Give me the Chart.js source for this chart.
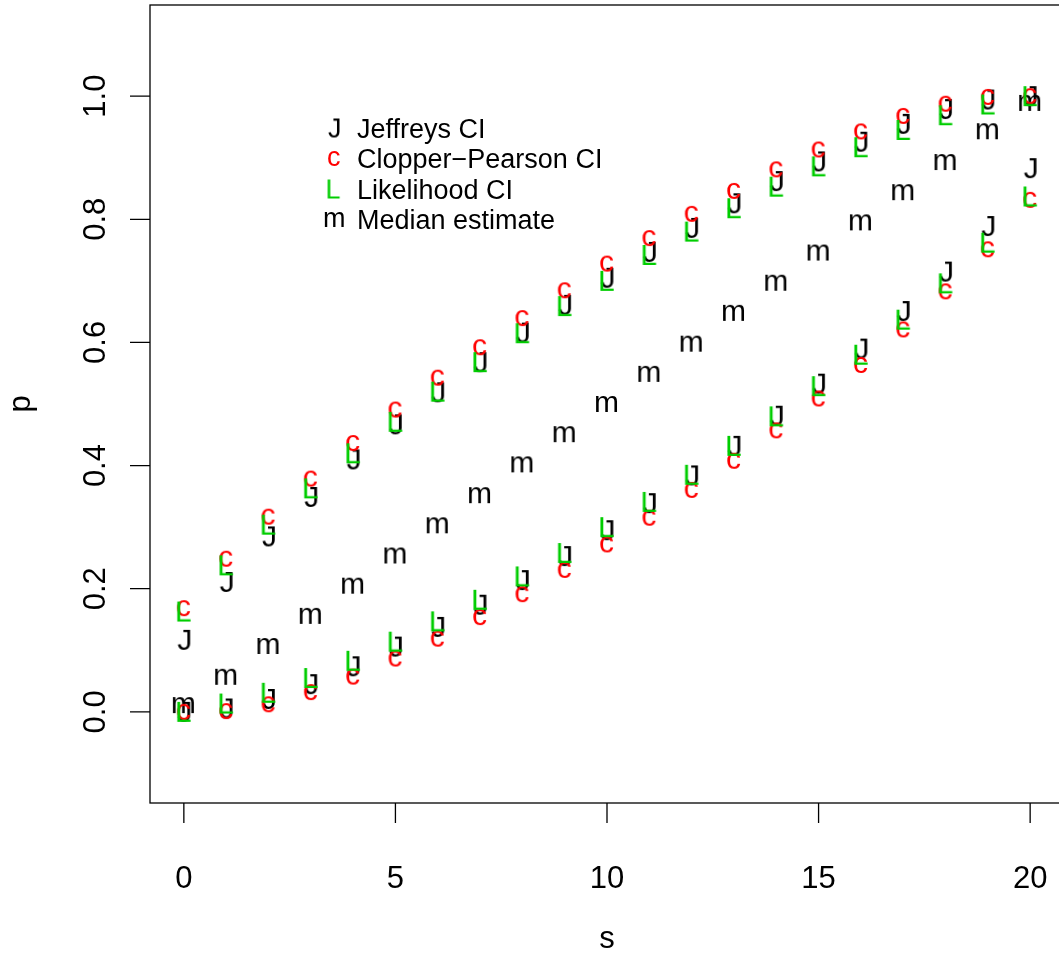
<!DOCTYPE html>
<html>
<head>
<meta charset="utf-8">
<script src="https://cdn.jsdelivr.net/npm/chart.js@4.4.0/dist/chart.umd.min.js"></script>
<style>
  html, body { margin: 0; padding: 0; background: #fff; overflow: hidden; }
  #wrap { width: 1059px; height: 956px; overflow: hidden; }
</style>
</head>
<body>
<div id="wrap"><canvas id="ciChart" width="1075" height="956"></canvas></div>
<script>
// Number of successes s out of n = 20
const successes = [0, 1, 2, 3, 4, 5, 6, 7, 8, 9, 10, 11, 12, 13, 14, 15, 16, 17, 18, 19, 20];

// Interval end points
const jeffreysLower = [0.000, 0.0055, 0.021, 0.045, 0.074, 0.106, 0.138, 0.174, 0.214, 0.253, 0.295,
  0.339, 0.384, 0.432, 0.481, 0.533, 0.590, 0.651, 0.715, 0.789, 0.883];
const jeffreysUpper = [0.117, 0.211, 0.285, 0.349, 0.410, 0.467, 0.519, 0.568, 0.616, 0.661, 0.705,
  0.747, 0.786, 0.826, 0.862, 0.894, 0.926, 0.955, 0.979, 0.9945, 1.000];
const clopperLower = [0.000, 0.0013, 0.0123, 0.0321, 0.0573, 0.0866, 0.1189, 0.1539, 0.1912, 0.2306, 0.2720,
  0.3153, 0.3605, 0.4078, 0.4572, 0.5090, 0.5634, 0.6211, 0.6830, 0.7513, 0.8316];
const clopperUpper = [0.1684, 0.2487, 0.3170, 0.3789, 0.4366, 0.4910, 0.5428, 0.5922, 0.6395, 0.6847, 0.7280,
  0.7694, 0.8088, 0.8461, 0.8811, 0.9134, 0.9427, 0.9679, 0.9877, 0.9987, 1.000];
const likelihoodLower = [0.000, 0.0135, 0.031, 0.055, 0.083, 0.114, 0.147, 0.182, 0.220, 0.258, 0.300,
  0.341, 0.385, 0.432, 0.480, 0.529, 0.580, 0.637, 0.696, 0.762, 0.837];
const likelihoodUpper = [0.163, 0.238, 0.304, 0.363, 0.420, 0.471, 0.520, 0.568, 0.615, 0.659, 0.700,
  0.742, 0.780, 0.818, 0.853, 0.886, 0.917, 0.945, 0.969, 0.9865, 1.000];
const medianEstimate = [0.011, 0.057, 0.107, 0.156, 0.205, 0.254, 0.303, 0.352, 0.402, 0.451, 0.500,
  0.549, 0.598, 0.648, 0.697, 0.746, 0.795, 0.844, 0.893, 0.943, 0.989];

// Axis ticks
const xTicks = [0, 5, 10, 15, 20];
const xTickLabels = ['0', '5', '10', '15', '20'];
const yTicks = [0, 0.2, 0.4, 0.6, 0.8, 1.0];
const yTickLabels = ['0.0', '0.2', '0.4', '0.6', '0.8', '1.0'];

const legendLabels = ['Jeffreys CI', 'Clopper\u2212Pearson CI', 'Likelihood CI', 'Median estimate'];
const legendLetters = ['J', 'c', 'L', 'm'];
const legendColors = ['#000000', '#FF0000', '#00CD00', '#000000'];

const FONT = '"Liberation Sans", Arial, Helvetica, sans-serif';

// Small canvas holding one letter with its ink centred, like R's pch = "J"
function letterSymbol(letter, color, size) {
  const probe = document.createElement('canvas').getContext('2d');
  probe.font = size + 'px ' + FONT;
  const m = probe.measureText(letter);
  const inkW = m.actualBoundingBoxLeft + m.actualBoundingBoxRight;
  const inkH = m.actualBoundingBoxAscent + m.actualBoundingBoxDescent;
  const w = Math.ceil(inkW) + 4;
  const h = Math.ceil(inkH) + 4;
  const c = document.createElement('canvas');
  c.width = w;
  c.height = h;
  const g = c.getContext('2d');
  g.font = probe.font;
  g.fillStyle = color;
  g.textBaseline = 'alphabetic';
  g.fillText(letter, (w - inkW) / 2 + m.actualBoundingBoxLeft, (h - inkH) / 2 + m.actualBoundingBoxAscent);
  return c;
}

// lower and upper ends together as one point list
function toPoints(lower, upper) {
  const lo = successes.map((s, i) => ({ x: s, y: lower[i] }));
  const hi = successes.map((s, i) => ({ x: s, y: upper[i] }));
  return lo.concat(hi);
}

// R style box, ticks, labels and legend
const rAxesPlugin = {
  id: 'rAxes',
  afterDraw(chart) {
    const { ctx, chartArea: a } = chart;
    const x = chart.scales.x;
    const y = chart.scales.y;
    ctx.save();
    ctx.strokeStyle = '#000';
    ctx.lineWidth = 1.3;
    ctx.strokeRect(a.left, a.top, a.right - a.left, a.bottom - a.top);

    ctx.beginPath();
    xTicks.forEach((v) => {
      const px = x.getPixelForValue(v);
      ctx.moveTo(px, a.bottom);
      ctx.lineTo(px, a.bottom + 20);
    });
    yTicks.forEach((v) => {
      const py = y.getPixelForValue(v);
      ctx.moveTo(a.left, py);
      ctx.lineTo(a.left - 20, py);
    });
    ctx.stroke();

    const tickSize = 31;
    ctx.fillStyle = '#000';
    ctx.font = tickSize + 'px ' + FONT;
    ctx.textAlign = 'center';
    ctx.textBaseline = 'alphabetic';
    xTicks.forEach((v, i) => {
      ctx.fillText(xTickLabels[i], x.getPixelForValue(v), 877 + 0.358 * tickSize);
    });
    yTicks.forEach((v, i) => {
      ctx.save();
      ctx.translate(94, y.getPixelForValue(v));
      ctx.rotate(-Math.PI / 2);
      ctx.fillText(yTickLabels[i], 0, 0.358 * tickSize);
      ctx.restore();
    });

    // axis titles
    ctx.fillText('s', x.getPixelForValue(10), 940 + 0.26 * tickSize);
    ctx.save();
    ctx.translate(22, y.getPixelForValue(0.5));
    ctx.rotate(-Math.PI / 2);
    ctx.fillText('p', 0, 0.26 * tickSize);
    ctx.restore();

    // legend
    const legendSize = 27;
    ctx.textAlign = 'left';
    ctx.font = legendSize + 'px ' + FONT;
    legendLabels.forEach((label, i) => {
      const rowY = 128 + i * 30.5;
      const sym = legendSymbols[i];
      ctx.drawImage(sym, 334 - sym.width / 2, rowY - sym.height / 2);
      ctx.fillStyle = '#000';
      ctx.fillText(label, 357, rowY + 0.358 * legendSize);
    });
    ctx.restore();
  }
};

const symJ = letterSymbol('J', '#000000', 30);
const symC = letterSymbol('c', '#FF0000', 30);
const symL = letterSymbol('L', '#00CD00', 30);
const symM = letterSymbol('m', '#000000', 30);
const legendSymbols = legendLetters.map((letter, i) => letterSymbol(letter, legendColors[i], 27));

function createChart() {
  const chartContext = document.getElementById('ciChart').getContext('2d');
  /* global Chart */
  return new Chart(chartContext, {
    type: 'scatter',
    data: {
      datasets: [
        { label: 'Likelihood CI', data: toPoints(likelihoodLower, likelihoodUpper), pointStyle: symL, order: 0 },
        { label: 'Clopper\u2212Pearson CI', data: toPoints(clopperLower, clopperUpper), pointStyle: symC, order: 1 },
        { label: 'Jeffreys CI', data: toPoints(jeffreysLower, jeffreysUpper), pointStyle: symJ, order: 2 },
        { label: 'Median estimate', data: successes.map((s, i) => ({ x: s, y: medianEstimate[i] })), pointStyle: symM, order: 3 },
      ],
    },
    options: {
      responsive: false,
      animation: false,
      devicePixelRatio: 1,
      events: [],
      layout: { padding: { left: 150, top: 4, right: 11, bottom: 153 } },
      plugins: {
        legend: { display: false },
        tooltip: { enabled: false },
      },
      scales: {
        x: { type: 'linear', min: -0.8, max: 20.8, display: false },
        y: { type: 'linear', min: -0.148, max: 1.148, display: false },
      },
    },
    plugins: [rAxesPlugin],
  });
}

createChart();
</script>
</body>
</html>
